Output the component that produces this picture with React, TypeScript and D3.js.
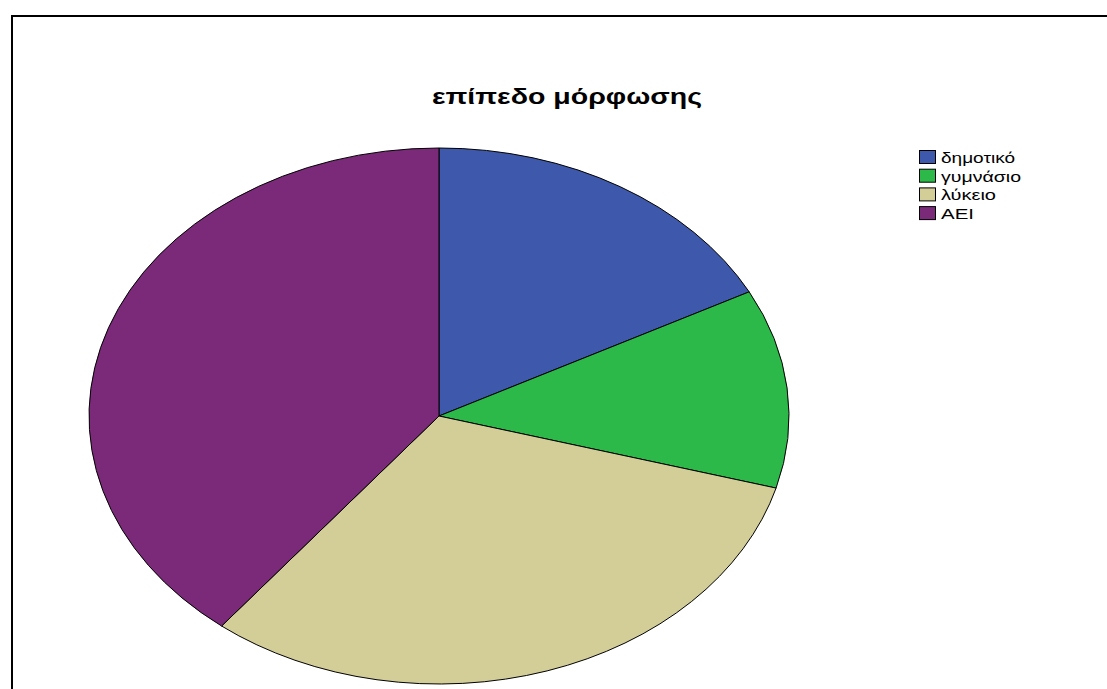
import React from "react";
import * as d3 from "d3";

const categories = ["δημοτικό", "γυμνάσιο", "λύκειο", "ΑΕΙ"];
const counts = [26, 18, 47, 59];
const colors = ["#3E59AB", "#2DB84A", "#D3CD97", "#7B2A79"];
const title = "επίπεδο μόρφωσης";
const legendTextWidths = [74, 80, 55, 33];

export default function App() {
  const W = 1107, H = 689;
  const cx = 439, cy = 416, rx = 350, ry = 268;
  const pie = d3.pie<number>().sort(null).value((d) => d)(counts);
  const arc = d3.arc<d3.PieArcDatum<number>>().innerRadius(0).outerRadius(ry);
  const legendY = d3.scaleBand<string>().domain(categories).range([149, 149 + 4 * 18.7]);
  return (
    <svg width={W} height={H} style={{ position: "absolute", left: 0, top: 0, background: "#fff" }}>
      <rect x={12} y={16} width={1130} height={700} fill="#fff" stroke="#000" strokeWidth={2} />
      <text x={432} y={104} textLength={270} lengthAdjust="spacingAndGlyphs" fontFamily="Liberation Sans, Arial, sans-serif" fontWeight="bold" fontSize={22} fill="#000">{title}</text>
      <g transform={`translate(${cx},${cy}) scale(${rx / ry},1)`}>
        {pie.map((p, i) => (
          <path key={i} d={arc(p) || ""} fill={colors[i]} stroke="#000" strokeWidth={1} vectorEffect="non-scaling-stroke" />
        ))}
      </g>
      <g>
        {categories.map((c, i) => {
          const y = legendY(c)!;
          return (
            <g key={c}>
              <rect x={919.5} y={y + 1.5} width={16} height={13} fill={colors[i]} stroke="#000" strokeWidth={1} />
              <text x={941} y={y + 14} textLength={legendTextWidths[i]} lengthAdjust="spacingAndGlyphs" fontFamily="Liberation Sans, Arial, sans-serif" fontSize={15} fill="#000">{c}</text>
            </g>
          );
        })}
      </g>
    </svg>
  );
}
